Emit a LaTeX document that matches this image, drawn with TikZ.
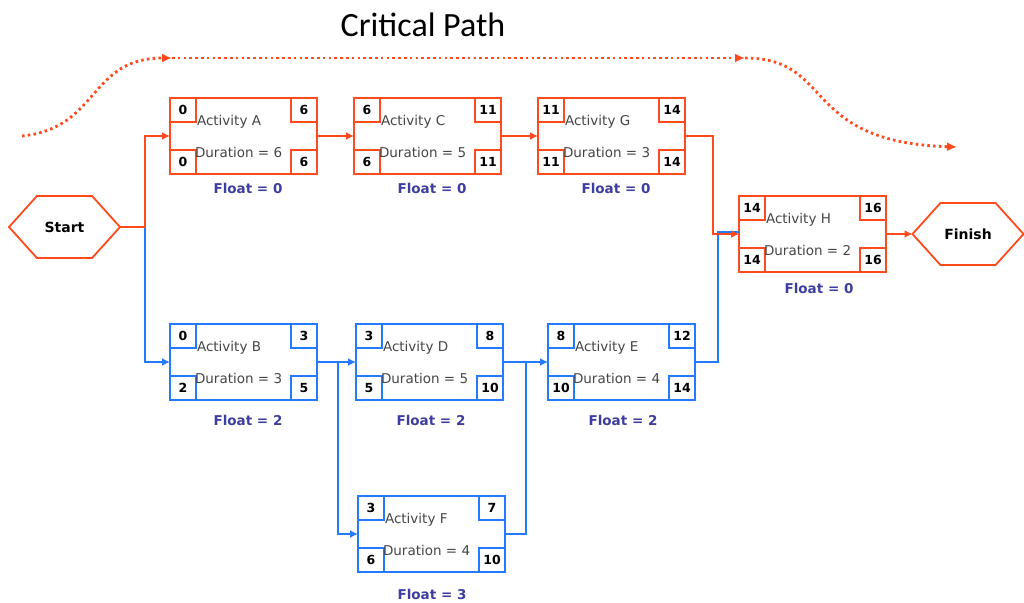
\documentclass[tikz,border=0pt]{standalone}
\usepackage{fontspec}
\setmainfont{DejaVu Sans}
\newfontfamily\titlefont{Carlito}
\usetikzlibrary{arrows.meta,shapes.symbols,calc}
\definecolor{cpred}{RGB}{255,74,30}
\definecolor{cpblue}{RGB}{35,122,255}
\definecolor{cpfloat}{RGB}{62,62,160}
\definecolor{cptext}{RGB}{70,70,70}
\tikzset{
  actbox/.style={draw, line width=2pt, minimum width=147pt, minimum height=76pt, inner sep=0pt, outer sep=0pt, fill=white},
  numbox/.style={draw, line width=2pt, minimum width=26pt, minimum height=24pt, inner sep=0pt, outer sep=0pt, font=\fontsize{12.5}{13}\selectfont\bfseries, text=black},
  acttext/.style={inner sep=0pt, outer sep=0pt, font=\fontsize{13.5}{14}\selectfont, text=cptext},
  floatlbl/.style={inner sep=0pt, font=\fontsize{13.5}{14}\selectfont\bfseries, text=cpfloat},
  hexnode/.style={shape=signal, signal to=west and east, signal pointer angle=96, draw=cpred, line width=1.8pt, minimum width=111pt, minimum height=62pt, inner sep=0pt, outer sep=0pt, font=\fontsize{14}{15}\selectfont\bfseries},
  redline/.style={draw=cpred, line width=2pt, -{Latex[length=8pt,width=8pt]}},
  blueline/.style={draw=cpblue, line width=2pt, -{Latex[length=8pt,width=8pt]}},
  critpath/.style={draw=cpred, line width=2.8pt, dash pattern=on 2.6pt off 3.2pt, -{Latex[length=10pt,width=9pt]}},
}
\newcommand\actbox[9]{%
  \node[actbox, draw=#3, anchor=north west] (#1) at (#2) {};
  \node[numbox, draw=#3, anchor=north west] (#1es) at (#1.north west) {#6};
  \node[numbox, draw=#3, anchor=north east] (#1ef) at (#1.north east) {#7};
  \node[numbox, draw=#3, anchor=south west] (#1ls) at (#1.south west) {#8};
  \node[numbox, draw=#3, anchor=south east] (#1lf) at (#1.south east) {#9};
  \node[acttext, anchor=west] (#1t) at ([xshift=27pt,yshift=-24pt]#1.north west) {Activity #4};
  \node[acttext, anchor=west] (#1d) at ([xshift=25pt,yshift=-54pt]#1.north west) {Duration = #5};
}
\begin{document}
\begin{tikzpicture}[x=1pt,y=-1pt]
\useasboundingbox[fill=white] (0,0) rectangle (1024,602);

% title
\node[font=\titlefont\fontsize{34}{36}\selectfont, text=black] (title) at (423,25) {Critical Path};

% critical path dotted curve
\coordinate (c0) at (22,136);
\coordinate (c1) at (172,58);
\coordinate (c2) at (745,58);
\coordinate (c3) at (957,147);
\draw[critpath] (c0) .. controls (100,128) and (88,58) .. (c1);
\draw[critpath] (c1) -- (c2);
\draw[critpath] (c2) .. controls (835,58) and (800,142) .. (c3);

% start / finish
\node[hexnode] (start) at (64.5,227) {Start};
\node[hexnode] (finish) at (968,234) {Finish};

% activities
\actbox{A}{170,98}{cpred}{A}{6}{0}{6}{0}{6}
\actbox{C}{354,98}{cpred}{C}{5}{6}{11}{6}{11}
\actbox{G}{538,98}{cpred}{G}{3}{11}{14}{11}{14}
\actbox{H}{739,196}{cpred}{H}{2}{14}{16}{14}{16}
\actbox{B}{170,324}{cpblue}{B}{3}{0}{3}{2}{5}
\actbox{D}{356,324}{cpblue}{D}{5}{3}{8}{5}{10}
\actbox{E}{548,324}{cpblue}{E}{4}{8}{12}{10}{14}
\actbox{F}{358,496}{cpblue}{F}{4}{3}{7}{6}{10}

% floats
\node[floatlbl] (Afl) at (248,188) {Float = 0};
\node[floatlbl] (Cfl) at (432,188) {Float = 0};
\node[floatlbl] (Gfl) at (616,188) {Float = 0};
\node[floatlbl] (Hfl) at (819,288) {Float = 0};
\node[floatlbl] (Bfl) at (248,420) {Float = 2};
\node[floatlbl] (Dfl) at (431,420) {Float = 2};
\node[floatlbl] (Efl) at (623,420) {Float = 2};
\node[floatlbl] (Ffl) at (432,594) {Float = 3};

% junctions
\coordinate (sj) at (145,227);
\coordinate (bd) at (338,362);
\coordinate (de) at (526,362);
\coordinate (gh) at (713,136);
\coordinate (eh) at (718,362);

% blue connectors
\draw[blueline] (sj) |- (B.west);
\draw[blueline] (B.east) -- (bd) -- (D.west);
\draw[blueline] (bd) |- (F.west);
\draw[blueline] (D.east) -- (de) -- (E.west);
\draw[draw=cpblue, line width=2pt] (F.east) -| (de);
\draw[draw=cpblue, line width=2pt] (E.east) -- (eh) |- ([yshift=2pt]H.west);

% red connectors
\draw[redline] (start.east) -- (sj) |- (A.west);
\draw[redline] (A.east) -- (C.west);
\draw[redline] (C.east) -- (G.west);
\draw[redline] (G.east) -- (gh) |- (H.west);
\draw[redline] (H.east) -- (finish.west);
\end{tikzpicture}
\end{document}
